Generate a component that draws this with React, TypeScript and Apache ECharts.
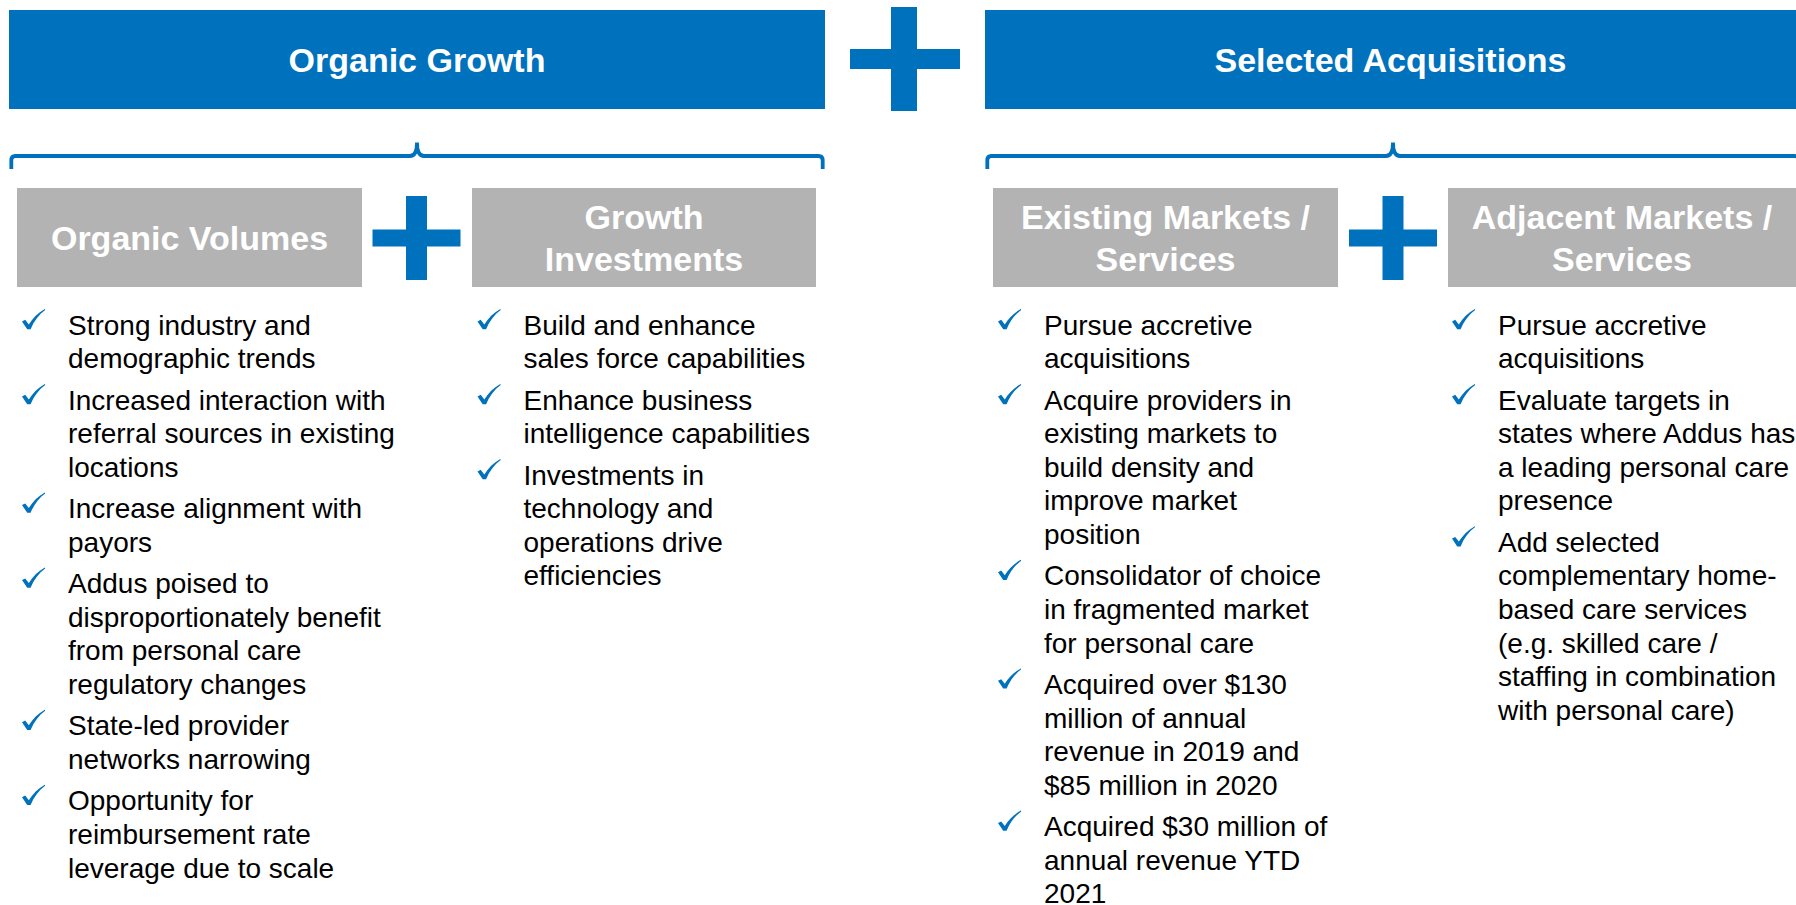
import React, { useEffect, useRef } from "react";
import * as echarts from "echarts";

// ---------- content ----------
const mainTitles = ["Organic Growth", "Selected Acquisitions"];
const subTitles = [
  ["Organic Volumes"],
  ["Growth", "Investments"],
  ["Existing Markets /", "Services"],
  ["Adjacent Markets /", "Services"],
];

const organicVolumes = [
  ["Strong industry and", "demographic trends"],
  ["Increased interaction with", "referral sources in existing", "locations"],
  ["Increase alignment with", "payors"],
  ["Addus poised to", "disproportionately benefit", "from personal care", "regulatory changes"],
  ["State-led provider", "networks narrowing"],
  ["Opportunity for", "reimbursement rate", "leverage due to scale"],
];

const growthInvestments = [
  ["Build and enhance", "sales force capabilities"],
  ["Enhance business", "intelligence capabilities"],
  ["Investments in", "technology and", "operations drive", "efficiencies"],
];

const existingMarkets = [
  ["Pursue accretive", "acquisitions"],
  ["Acquire providers in", "existing markets to", "build density and", "improve market", "position"],
  ["Consolidator of choice", "in fragmented market", "for personal care"],
  ["Acquired over $130", "million of annual", "revenue in 2019 and", "$85 million in 2020"],
  ["Acquired $30 million of", "annual revenue YTD", "2021"],
];

const adjacentMarkets = [
  ["Pursue accretive", "acquisitions"],
  ["Evaluate targets in", "states where Addus has", "a leading personal care", "presence"],
  [
    "Add selected",
    "complementary home-",
    "based care services",
    "(e.g. skilled care /",
    "staffing in combination",
    "with personal care)",
  ],
];

// ---------- styling / layout ----------
const BLUE = "#0071BC";
const GRAY = "#B3B3B3";
const FONT = "'Liberation Sans', Arial, Helvetica, sans-serif";

echarts.graphic.registerShape(
  "checkMark",
  echarts.graphic.extendPath(
    "M0,12.4 L3.2,10.8 L6.8,15.4 C10.8,9.2 15.8,3.8 22.8,0 L23.2,0.9 C16.8,5.6 11.8,12.2 8.6,20.2 L5.2,20.2 Z",
    {}
  )
);
echarts.graphic.registerShape(
  "brace",
  echarts.graphic.extendPath(
    "M11.3,169 L11.3,160.5 Q11.3,156 15.5,156 L410,156 Q417,156 417,142.5 Q417,156 424,156 L818.5,156 Q822.7,156 822.7,160.5 L822.7,169",
    {}
  )
);

function text(x: number, y: number, str: string, font: string, fill: string, align = "left") {
  return {
    type: "text",
    x,
    y,
    style: {
      text: str,
      font,
      fill,
      textAlign: align,
      align,
      textVerticalAlign: "middle",
      verticalAlign: "middle",
    },
  };
}

function rect(x: number, y: number, w: number, h: number, fill: string) {
  return { type: "rect", shape: { x, y, width: w, height: h }, style: { fill } };
}

function buildElements() {
  const els: any[] = [];
  const titleFont = `bold 34px ${FONT}`;
  const bodyFont = `28px ${FONT}`;

  // main blue boxes
  const mainBoxes = [
    { x: 9, w: 816 },
    { x: 985, w: 811 },
  ];
  mainBoxes.forEach((b, i) => {
    els.push(rect(b.x, 10, b.w, 99, BLUE));
    els.push(text(b.x + b.w / 2, 60, mainTitles[i], titleFont, "#ffffff", "center"));
  });

  // big plus
  els.push(rect(891, 7, 26, 104, BLUE));
  els.push(rect(850, 49, 110, 20, BLUE));

  // braces
  [0, 976].forEach((dx) => {
    els.push({
      type: "brace",
      x: dx,
      y: 0,
      style: { fill: "none", stroke: BLUE, lineWidth: 3.8 },
    });
  });

  // gray boxes
  const grayBoxes = [
    { x: 17, w: 345 },
    { x: 472, w: 344 },
    { x: 993, w: 345 },
    { x: 1448, w: 348 },
  ];
  grayBoxes.forEach((b, i) => {
    els.push(rect(b.x, 188, b.w, 99, GRAY));
    const lines = subTitles[i];
    const lh = 42.4;
    const cy = 238 - ((lines.length - 1) * lh) / 2;
    lines.forEach((ln, k) => {
      els.push(text(b.x + b.w / 2, cy + k * lh, ln, titleFont, "#ffffff", "center"));
    });
  });

  // small plus signs
  [416.5, 1393].forEach((cx) => {
    els.push(rect(cx - 10.5, 196, 21, 84, BLUE));
    els.push(rect(cx - 44, 229.5, 88, 17, BLUE));
  });

  // bullet columns
  const columns = [
    { textX: 68, items: organicVolumes },
    { textX: 523.5, items: growthInvestments },
    { textX: 1044, items: existingMarkets },
    { textX: 1498, items: adjacentMarkets },
  ];
  const lineH = 33.6;
  const gap = 7.8;
  columns.forEach((col) => {
    let y = 325;
    col.items.forEach((item) => {
      els.push({
        type: "checkMark",
        x: col.textX - 46,
        y: y - 16,
        style: { fill: BLUE },
      });
      item.forEach((ln, k) => {
        els.push(text(col.textX, y + k * lineH, ln, bodyFont, "#000000"));
      });
      y += item.length * lineH + gap;
    });
  });

  return els;
}

export default function App() {
  const ref = useRef<HTMLDivElement>(null);
  useEffect(() => {
    if (!ref.current) return;
    const chart = echarts.init(ref.current, null, { renderer: "svg", width: 1796, height: 905 });
    chart.setOption({
      animation: false,
      backgroundColor: "#ffffff",
      graphic: { elements: buildElements() },
    });
    return () => chart.dispose();
  }, []);
  return (
    <div
      ref={ref}
      style={{ position: "fixed", left: 0, top: 0, width: 1796, height: 905, background: "#fff" }}
    />
  );
}
